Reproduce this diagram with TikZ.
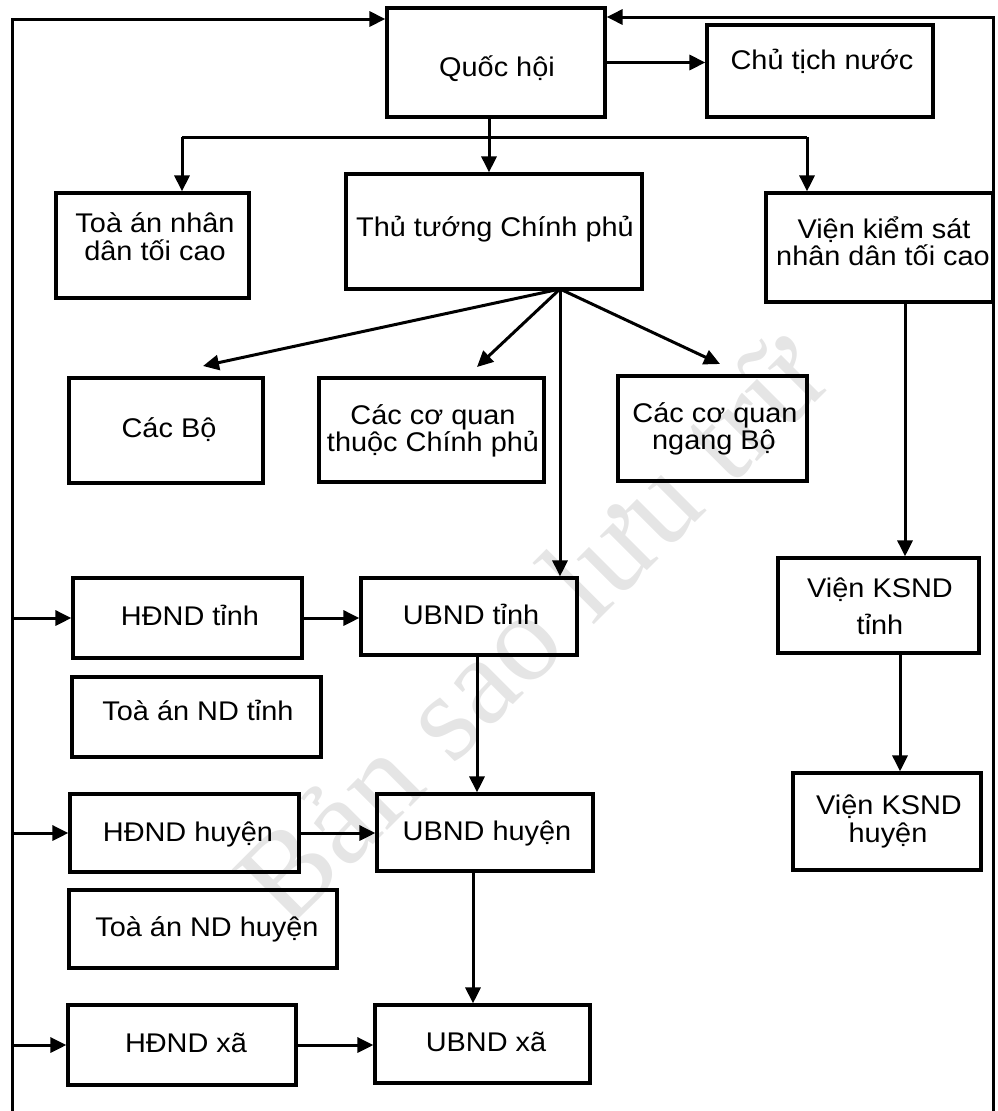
\documentclass[tikz,border=0pt]{standalone}
\usepackage{fontspec}
\setmainfont{Liberation Sans}[FakeStretch=1.07]
\newfontfamily\wmfont{Liberation Serif}
\usetikzlibrary{arrows.meta}

\begin{document}
\begin{tikzpicture}[x=1pt, y=-1pt,
  line width=3pt,
  bx/.style={draw, line width=3.2pt, inner sep=0pt, anchor=center},
  txt/.style={inner sep=0pt, text height=19pt, text depth=0pt,
              font=\fontsize{27}{30}\selectfont, anchor=center},
  arr/.style={-{Triangle[length=16pt,width=15pt]}},
  wm/.style={font=\wmfont\fontsize{125}{125}\selectfont, text=black!10,
             rotate=45, inner sep=0pt}
]
\useasboundingbox (0,0) rectangle (997,1111);

% watermark behind everything
\node[wm] (wmark) at (530,628) {Bản sao lưu trữ};

% ---------- boxes ----------
\node[bx, minimum width=218pt, minimum height=109pt] (qh)  at (496,62.5) {};
\node[bx, minimum width=226pt, minimum height=92pt]  (ct)  at (820,71) {};
\node[bx, minimum width=193pt, minimum height=105pt] (ta)  at (152.5,245.5) {};
\node[bx, minimum width=296pt, minimum height=115pt] (tt)  at (494,231.5) {};
\node[bx, minimum width=227pt, minimum height=109pt] (vks) at (879.5,247.5) {};
\node[bx, minimum width=194pt, minimum height=105pt] (bo)  at (166,430.5) {};
\node[bx, minimum width=225pt, minimum height=104pt] (cqt) at (431.5,430) {};
\node[bx, minimum width=189pt, minimum height=105pt] (cqn) at (712.5,428.5) {};
\node[bx, minimum width=229pt, minimum height=80pt]  (hdt) at (187.5,618) {};
\node[bx, minimum width=216pt, minimum height=77pt]  (ubt) at (469,616.5) {};
\node[bx, minimum width=249pt, minimum height=80pt]  (tat) at (196.5,717) {};
\node[bx, minimum width=229pt, minimum height=78pt]  (hdh) at (184.5,833) {};
\node[bx, minimum width=216pt, minimum height=77pt]  (ubh) at (485,832.5) {};
\node[bx, minimum width=268pt, minimum height=78pt]  (tah) at (203,929) {};
\node[bx, minimum width=228pt, minimum height=80pt]  (hdx) at (182,1045) {};
\node[bx, minimum width=215pt, minimum height=78pt]  (ubx) at (482.5,1044) {};
\node[bx, minimum width=201pt, minimum height=95pt]  (vkt) at (878.5,605.5) {};
\node[bx, minimum width=188pt, minimum height=97pt]  (vkh) at (887,821.5) {};

% ---------- labels ----------
\node[txt] (qh-t)  at (497,67)  {Quốc hội};
\node[txt] (ct-t)  at (822,60)  {Chủ tịch nước};
\node[txt] (ta-t1) at (155,223) {Toà án nhân};
\node[txt] (ta-t2) at (155,251) {dân tối cao};
\node[txt] (tt-t)  at (495,227) {Thủ tướng Chính phủ};
\node[txt] (vks-t1) at (884,229) {Viện kiểm sát};
\node[txt] (vks-t2) at (883,256) {nhân dân tối cao};
\node[txt] (bo-t)  at (169,428) {Các Bộ};
\node[txt] (cqt-t1) at (433,415) {Các cơ quan};
\node[txt] (cqt-t2) at (433,442) {thuộc Chính phủ};
\node[txt] (cqn-t1) at (715,413) {Các cơ quan};
\node[txt] (cqn-t2) at (714,440) {ngang Bộ};
\node[txt] (hdt-t) at (190,616) {HĐND tỉnh};
\node[txt] (ubt-t) at (471,615) {UBND tỉnh};
\node[txt] (tat-t) at (198,711) {Toà án ND tỉnh};
\node[txt] (hdh-t) at (188,832) {HĐND huyện};
\node[txt] (ubh-t) at (487,831) {UBND huyện};
\node[txt] (tah-t) at (207,927) {Toà án ND huyện};
\node[txt] (hdx-t) at (186,1043) {HĐND xã};
\node[txt] (ubx-t) at (486,1042) {UBND xã};
\node[txt] (vkt-t1) at (880,588) {Viện KSND};
\node[txt] (vkt-t2) at (880,625) {tỉnh};
\node[txt] (vkh-t1) at (889,805) {Viện KSND};
\node[txt] (vkh-t2) at (888,833) {huyện};

% ---------- junction points ----------
\coordinate (fork) at (489,137);
\coordinate (fl)   at (182,137);
\coordinate (fr)   at (807,137);
\coordinate (hub)  at (560,289);
\coordinate (bo-in)  at (203,366);
\coordinate (cqt-in) at (477,367);
\coordinate (cqn-in) at (720,364);
\coordinate (vk1)  at (905,0);
\coordinate (vk2)  at (900,0);
\coordinate (ub1)  at (477,0);
\coordinate (ub2)  at (473,0);
\coordinate (Ltop) at (12,19);
\coordinate (Lbot) at (12,1111);
\coordinate (Rtop) at (993,17);
\coordinate (Rbot) at (993,1111);

% ---------- connectors ----------
% outer loops back to the National Assembly
\draw[arr] (Lbot) |- (Ltop -| qh.west);
\draw[arr] (Rbot) |- (Rtop -| qh.east);
\draw[arr] (Lbot |- hdt.west) -- (hdt.west);
\draw[arr] (Lbot |- hdh.west) -- (hdh.west);
\draw[arr] (Lbot |- hdx.west) -- (hdx.west);

% National Assembly branches
\draw[arr] (qh.east) -- (qh.east -| ct.west);
\draw (qh.south -| fork) -- (fork);
\draw (fl) -- (fr);
\draw[arr] (fork) -- (fork |- tt.north);
\draw[arr] (fl) -- (fl |- ta.north);
\draw[arr] (fr) -- (fr |- vks.north);

% Government fan
\draw[arr] (hub) -- (bo-in);
\draw[arr] (hub) -- (cqt-in);
\draw[arr] (hub) -- (cqn-in);
\draw[arr] (hub) -- (hub |- ubt.north);

% local levels
\draw[arr] (hdt.east) -- (hdt.east -| ubt.west);
\draw[arr] (hdh.east) -- (hdh.east -| ubh.west);
\draw[arr] (hdx.east) -- (hdx.east -| ubx.west);
\draw[arr] (ubt.south -| ub1) -- (ubh.north -| ub1);
\draw[arr] (ubh.south -| ub2) -- (ubx.north -| ub2);

% procuracy chain
\draw[arr] (vks.south -| vk1) -- (vkt.north -| vk1);
\draw[arr] (vkt.south -| vk2) -- (vkh.north -| vk2);
\end{tikzpicture}
\end{document}
